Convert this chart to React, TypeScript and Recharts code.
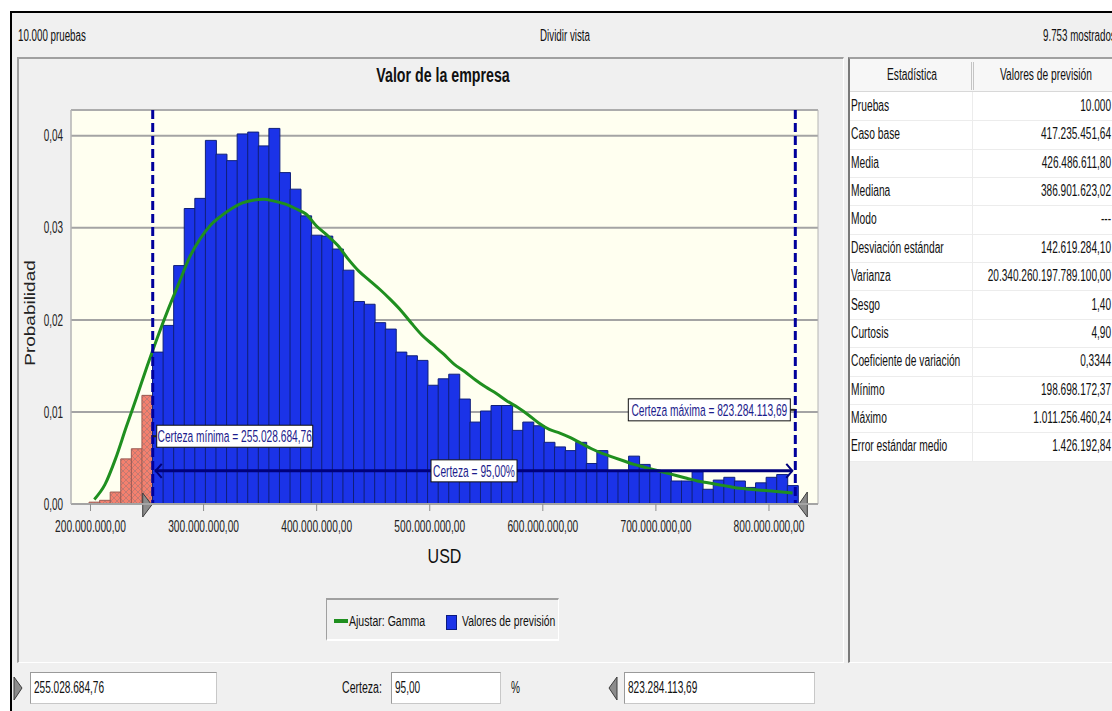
import React from "react";
import {
  ComposedChart,
  Bar,
  Line,
  XAxis,
  YAxis,
  CartesianGrid,
  ReferenceLine,
  ReferenceArea,
  Cell,
} from "recharts";

const FONT = '"Liberation Sans", Arial, sans-serif';

// histogram bins ("Valores de previsión"), first bin starts at the minimum
const binStart = 198698172.37;
const binWidth = 9356000;
const probabilities = [
  0.0002, 0.0004, 0.0013, 0.0049, 0.006, 0.0118, 0.0165, 0.0194, 0.0259, 0.0321,
  0.0332, 0.0395, 0.038, 0.0373, 0.0402, 0.0404, 0.0389, 0.0408, 0.036, 0.0342,
  0.0313, 0.0292, 0.0291, 0.0277, 0.0254, 0.022, 0.0217, 0.0197, 0.019, 0.0165,
  0.0161, 0.0156, 0.0129, 0.0136, 0.0141, 0.0114, 0.0089, 0.0101, 0.0107, 0.0107,
  0.008, 0.0089, 0.0085, 0.0067, 0.0062, 0.0058, 0.0067, 0.0044, 0.0058, 0.0036,
  0.0036, 0.0052, 0.0043, 0.0036, 0.0036, 0.0025, 0.0025, 0.0035, 0.0016, 0.0026,
  0.0029, 0.0025, 0.0018, 0.0023, 0.0029, 0.0032, 0.002,
];
// "Ajustar: Gamma" read at each bin centre
const gammaFit = [
  0.0005, 0.0021, 0.0049, 0.0083, 0.0116, 0.015, 0.0182, 0.0212, 0.024, 0.0268,
  0.0288, 0.0303, 0.0313, 0.0321, 0.0327, 0.033, 0.0331, 0.0329, 0.0326, 0.0321,
  0.0315, 0.0302, 0.0292, 0.0281, 0.0266, 0.0253, 0.0243, 0.0233, 0.0222, 0.021,
  0.0196, 0.0183, 0.0173, 0.0163, 0.0152, 0.0144, 0.0135, 0.0127, 0.012, 0.0112,
  0.0105, 0.0097, 0.0088, 0.0081, 0.0077, 0.0072, 0.0066, 0.006, 0.0055, 0.0051,
  0.0047, 0.0043, 0.004, 0.0037, 0.0034, 0.0031, 0.0028, 0.0025, 0.0023, 0.0021,
  0.0019, 0.0017, 0.0016, 0.0015, 0.0014, 0.0013, 0.0012,
];

const certMin = 255028684.76;
const certMax = 823284113.69;
const certainty = 95;
const arrowLevel = 0.0036;

const xDomain = [182760000, 843350000];
const xTicks = [200e6, 300e6, 400e6, 500e6, 600e6, 700e6, 800e6];
const yDomain = [0, 0.0428];
const yTicks = [0, 0.01, 0.02, 0.03, 0.04];

const statNames = [
  "Pruebas",
  "Caso base",
  "Media",
  "Mediana",
  "Modo",
  "Desviación estándar",
  "Varianza",
  "Sesgo",
  "Curtosis",
  "Coeficiente de variación",
  "Mínimo",
  "Máximo",
  "Error estándar medio",
];
const statValues = [
  "10.000",
  "417.235.451,64",
  "426.486.611,80",
  "386.901.623,02",
  "---",
  "142.619.284,10",
  "20.340.260.197.789.100,00",
  "1,40",
  "4,90",
  "0,3344",
  "198.698.172,37",
  "1.011.256.460,24",
  "1.426.192,84",
];

const data = probabilities.map((p, i) => ({
  x: binStart + binWidth * (i + 0.5),
  prob: p,
  fit: gammaFit[i],
}));

const usd = new Intl.NumberFormat("de-DE", {
  minimumFractionDigits: 2,
  maximumFractionDigits: 2,
});
const fmtProb = (v: number) => v.toFixed(2).replace(".", ",");

const BLUE = "#1b33e8";
const NAVY = "#00009c";
const LABEL_NAVY = "#1c1c8c";

// squeezed text, the screenshot is horizontally compressed
function Txt({ x, y, size = 16, sx = 0.63, anchor = "start", bold = false, color = "#111", children }: any) {
  const tx = anchor === "middle" ? -50 : anchor === "end" ? -100 : 0;
  const origin = anchor === "middle" ? "50% 50%" : anchor === "end" ? "100% 50%" : "0 50%";
  return (
    <div
      style={{
        position: "absolute",
        left: x,
        top: y,
        fontFamily: FONT,
        fontSize: size,
        fontWeight: bold ? 700 : 400,
        lineHeight: 1,
        whiteSpace: "nowrap",
        color,
        transformOrigin: origin,
        transform: `translate(${tx}%, -50%) scaleX(${sx})`,
      }}
    >
      {children}
    </div>
  );
}

function SvgTxt({ x, y, size = 16, sx = 0.62, anchor = "start", color = "#222", rotate = 0, children }: any) {
  return (
    <text
      transform={`translate(${x} ${y}) scale(${sx} 1) rotate(${rotate})`}
      textAnchor={anchor}
      dy="0.35em"
      fontSize={size}
      fontFamily={FONT}
      fill={color}
    >
      {children}
    </text>
  );
}

const XTick = ({ x, y, payload }: any) => (
  <SvgTxt x={x} y={y + 13} size={17} sx={0.6} anchor="middle">
    {usd.format(payload.value)}
  </SvgTxt>
);

const YTick = ({ x, y, payload }: any) => (
  <SvgTxt x={x} y={y} size={16} sx={0.62} anchor="end">
    {fmtProb(payload.value)}
  </SvgTxt>
);

const certLineShape = (side: "min" | "max") => (props: any) => {
  const { x1, y1, y2 } = props;
  const top = Math.min(y1, y2);
  const bot = Math.max(y1, y2);
  const tri =
    side === "min"
      ? `${x1 - 10},${bot - 11} ${x1 - 1},${bot + 1} ${x1 - 10},${bot + 13}`
      : `${x1 + 3},${bot + 1} ${x1 + 12},${bot - 12} ${x1 + 12},${bot + 13}`;
  return (
    <g>
      <line x1={x1} x2={x1} y1={top} y2={bot} stroke={NAVY} strokeWidth={3} strokeDasharray="9 4" />
      <polygon points={tri} fill="#8c8c8c" stroke="#3c3c3c" strokeWidth={1} />
    </g>
  );
};

const arrowShape = (props: any) => {
  const { x1, x2, y1 } = props;
  const l = Math.min(x1, x2);
  const r = Math.max(x1, x2);
  return (
    <g stroke="#00007c" fill="none">
      <line x1={l + 2} x2={r - 3} y1={y1} y2={y1} strokeWidth={3} />
      <polyline points={`${l + 9},${y1 - 7} ${l + 3},${y1} ${l + 9},${y1 + 7}`} strokeWidth={2} />
      <polyline points={`${r - 9},${y1 - 7} ${r - 3},${y1} ${r - 9},${y1 + 7}`} strokeWidth={2} />
    </g>
  );
};

function boxLabel(text: string, w: number, place: (vb: any) => { left: number; cy: number }, link?: (vb: any) => [number, number, number]) {
  return (props: any) => {
    const vb = props.viewBox;
    const { left, cy } = place(vb);
    const seg = link ? link(vb) : null;
    return (
      <g>
        {seg && <line x1={seg[0]} x2={seg[1]} y1={seg[2]} y2={seg[2]} stroke="#222" strokeWidth={2} />}
        <rect x={left} y={cy - 11} width={w} height={22} fill="#fff" stroke="#111" strokeWidth={1} />
        <SvgTxt x={left + w / 2} y={cy} size={17} sx={0.6} anchor="middle" color={LABEL_NAVY}>
          {text}
        </SvgTxt>
      </g>
    );
  };
}

function Legend() {
  return (
    <div
      style={{
        position: "absolute",
        left: 326,
        top: 598,
        width: 233,
        height: 43,
        boxSizing: "border-box",
        borderTop: "2px solid #a0a0a0",
        borderLeft: "1px solid #a0a0a0",
        borderBottom: "2px solid #fff",
        borderRight: "1px solid #fff",
      }}
    >
      <div style={{ position: "absolute", left: 7, top: 19, width: 14, height: 4, background: "#1f8f1f" }} />
      <Txt x={22} y={21} size={15.5} sx={0.68}>Ajustar: Gamma</Txt>
      <div style={{ position: "absolute", left: 119, top: 15, width: 11, height: 15, background: BLUE, border: "1px solid #0a1a80", boxSizing: "border-box" }} />
      <Txt x={135} y={21} size={15.5} sx={0.67}>Valores de previsión</Txt>
    </div>
  );
}

function StatsTable() {
  const rowH = 28.37;
  return (
    <>
      <div style={{ position: "absolute", left: 848, top: 57, width: 264, height: 606, boxSizing: "border-box", borderLeft: "2px solid #7a7a7a", borderTop: "2px solid #a0a0a0", borderBottom: "1px solid #fff" }} />
      <div style={{ position: "absolute", left: 850, top: 59, width: 262, height: 402, background: "#fff" }} />
      <div style={{ position: "absolute", left: 850, top: 59, width: 262, height: 32, background: "#f7f7f7", borderBottom: "1px solid #d8d8d8" }} />
      <div style={{ position: "absolute", left: 971, top: 62, width: 1, height: 28, background: "#c4c4c4" }} />
      <div style={{ position: "absolute", left: 973, top: 62, width: 1, height: 28, background: "#c4c4c4" }} />
      <Txt x={912} y={75} anchor="middle" sx={0.64}>Estadística</Txt>
      <Txt x={1046} y={75} anchor="middle" sx={0.64}>Valores de previsión</Txt>
      <div style={{ position: "absolute", left: 972, top: 92, width: 1, height: 369, background: "#ececec" }} />
      {statNames.map((name, i) => {
        const cy = 106 + rowH * i;
        return (
          <React.Fragment key={name}>
            <div style={{ position: "absolute", left: 850, top: cy + rowH / 2, width: 262, height: 1, background: "#ececec" }} />
            <Txt x={851} y={cy} sx={0.64}>{name}</Txt>
            <Txt x={1111} y={cy} anchor="end" sx={0.63}>{statValues[i]}</Txt>
          </React.Fragment>
        );
      })}
    </>
  );
}

function InputBox({ left, width, text }: any) {
  return (
    <div
      style={{
        position: "absolute",
        left,
        top: 672,
        width,
        height: 32,
        boxSizing: "border-box",
        background: "#fff",
        borderTop: "1px solid #9a9a9a",
        borderLeft: "1px solid #9a9a9a",
        borderBottom: "1px solid #c8c8c8",
        borderRight: "1px solid #c8c8c8",
      }}
    >
      <Txt x={3} y={15} sx={0.63}>{text}</Txt>
    </div>
  );
}

function Marker({ left, dir }: any) {
  const pts = dir === "right" ? "1,1 9,12 1,24" : "10,1 2,12 10,24";
  return (
    <svg style={{ position: "absolute", left, top: 676 }} width={12} height={26}>
      <polygon points={pts} fill="#8c8c8c" stroke="#3c3c3c" strokeWidth={1} />
    </svg>
  );
}

export default function App() {
  return (
    <div style={{ position: "absolute", left: 0, top: 0, width: 1112, height: 711, background: "#fff", overflow: "hidden" }}>
      <div style={{ position: "absolute", left: 10, top: 11, width: 1102, height: 700, boxSizing: "border-box", background: "#f0f0f0", borderTop: "2px solid #000", borderLeft: "2px solid #000" }} />

      <Txt x={18} y={36} sx={0.61}>10.000 pruebas</Txt>
      <Txt x={565} y={36} anchor="middle" sx={0.61}>Dividir vista</Txt>
      <Txt x={1043} y={36} sx={0.61}>9.753 mostrados</Txt>

      <div style={{ position: "absolute", left: 17, top: 57, width: 827, height: 606, boxSizing: "border-box", borderTop: "2px solid #a0a0a0", borderLeft: "2px solid #a0a0a0", borderRight: "1px solid #fff", borderBottom: "1px solid #fff" }} />
      <Txt x={443} y={75} size={20} bold sx={0.71}>
        <span style={{ display: "inline-block", transform: "translateX(-50%)" }}>Valor de la empresa</span>
      </Txt>

      <div style={{ position: "absolute", left: 0, top: 0 }}>
        <ComposedChart
          width={1112}
          height={711}
          data={data}
          margin={{ top: 110, right: 294, bottom: 177, left: 21 }}
          barCategoryGap={0}
          barGap={0}
        >
          <defs>
            <pattern id="hatch" width="6" height="6" patternUnits="userSpaceOnUse">
              <rect width="6" height="6" fill="#f4806e" />
              <path d="M0,0 L6,6 M6,0 L0,6" stroke="#c27a72" strokeWidth="1" />
            </pattern>
          </defs>
          <CartesianGrid vertical={false} fill="#fffff0" stroke="#a4a4a4" strokeWidth={2} />
          <ReferenceArea x1={xDomain[0]} x2={xDomain[1]} y1={yDomain[0]} y2={yDomain[1]} fill="none" stroke="#b4b4b4" strokeWidth={1} />
          <XAxis
            dataKey="x"
            type="number"
            domain={xDomain}
            allowDataOverflow
            ticks={xTicks}
            height={30}
            tickSize={7}
            tickMargin={2}
            tick={<XTick />}
            axisLine={{ stroke: "#a4a4a4", strokeWidth: 2 }}
            tickLine={{ stroke: "#8c8c8c" }}
            label={(p: any) => {
              const vb = p.viewBox;
              return (
                <SvgTxt x={vb.x + vb.width / 2} y={vb.y + 52} size={20} sx={0.8} anchor="middle" color="#111">
                  USD
                </SvgTxt>
              );
            }}
          />
          <YAxis
            type="number"
            domain={yDomain}
            allowDataOverflow
            ticks={yTicks}
            width={50}
            tickSize={6}
            tickMargin={2}
            tickLine={false}
            tick={<YTick />}
            axisLine={{ stroke: "#b4b4b4" }}
            label={(p: any) => {
              const vb = p.viewBox;
              return (
                <SvgTxt x={vb.x + 9} y={vb.y + vb.height / 2 + 6} size={19} sx={0.8} anchor="middle" rotate={-90} color="#222">
                  Probabilidad
                </SvgTxt>
              );
            }}
          />
          <Bar dataKey="prob" isAnimationActive={false} strokeWidth={1}>
            {data.map((d, i) => (
              <Cell
                key={`bin-${i}`}
                fill={d.x < certMin ? "url(#hatch)" : BLUE}
                stroke={d.x < certMin ? "#9a5a52" : "#10207a"}
              />
            ))}
          </Bar>
          <Line
            dataKey="fit"
            type="monotone"
            stroke="#1f8f1f"
            strokeWidth={3}
            dot={false}
            activeDot={false}
            isAnimationActive={false}
          />
          <ReferenceLine
            x={certMin}
            shape={certLineShape("min")}
            label={boxLabel(
              "Certeza mínima = 255.028.684,76",
              156,
              (vb) => ({ left: vb.x + 4, cy: vb.y + vb.height * 0.828 }),
              (vb) => [vb.x, vb.x + 4, vb.y + vb.height * 0.828]
            )}
          />
          <ReferenceLine
            x={certMax}
            shape={certLineShape("max")}
            label={boxLabel(
              "Certeza máxima = 823.284.113,69",
              162,
              (vb) => ({ left: vb.x - 167, cy: vb.y + vb.height * 0.761 }),
              (vb) => [vb.x - 5, vb.x, vb.y + vb.height * 0.761]
            )}
          />
          <ReferenceLine
            segment={[
              { x: certMin, y: arrowLevel },
              { x: certMax, y: arrowLevel },
            ]}
            shape={arrowShape}
            label={boxLabel(`Certeza = ${certainty},00%`, 86, (vb) => ({ left: vb.x + vb.width / 2 - 43, cy: vb.y }))}
          />
        </ComposedChart>
      </div>

      <Legend />
      <StatsTable />

      <Marker left={13} dir="right" />
      <InputBox left={30} width={187} text="255.028.684,76" />
      <Txt x={342} y={688} sx={0.66}>Certeza:</Txt>
      <InputBox left={391} width={110} text={`${certainty},00`} />
      <Txt x={511} y={688} sx={0.63}>%</Txt>
      <Marker left={607} dir="left" />
      <InputBox left={624} width={191} text="823.284.113,69" />
    </div>
  );
}
